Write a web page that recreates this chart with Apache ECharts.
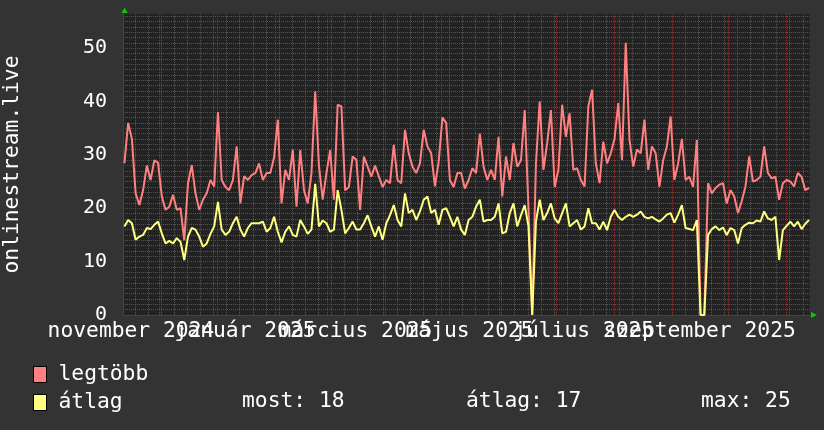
<!DOCTYPE html>
<html><head><meta charset="utf-8">
<script src="https://cdn.jsdelivr.net/npm/echarts@6/dist/echarts.min.js"></script>
<style>html,body{margin:0;padding:0;background:#333333;}#c{width:824px;height:430px;}</style>
</head><body><div id="c"></div>
<script>
const FONT = '"DejaVu Sans Mono", monospace';
const seriesNames = ['legtöbb', 'átlag'];
const seriesColors = ['#ff8080', '#ffff80'];
// one reading every 2 days, first reading 2024-11-12
const maxVals = [
28.4,36.0,33,22.8,20.6,23.4,28,25.3,29,28.5,22.2,19.7,20.3,22.5,19.7,20,14,24.7,28.1,22.8,
19.7,21.6,22.8,25.3,24.1,38,25.3,24,23.4,25.3,31.6,20.9,26,25.3,26.2,26.6,28.4,25.3,26.6,26.6,
29.5,36.6,20.9,27.2,25.3,31,20.3,30.9,23.4,20.9,26.6,41.9,28,21.6,26.6,30.9,21.6,39.4,39.1,23.4,
24,29.7,29.1,19.7,29.7,27.8,25.9,28,26,24,25.3,24.7,31.9,25.3,24.7,34.7,30.3,27.8,26.6,28.4,
34.7,31.6,30.3,24.1,28.7,37,36,25.3,24,26.6,26.6,23.7,25.3,27.5,26.6,34,27.8,25.3,27.2,25.3,
33.4,22.2,29.7,25.3,32.2,27.8,29,38.4,20,0,28.4,40,27.2,32.2,38.4,24,27.2,39.4,33.4,37.8,
27.2,27.5,25.3,24.1,39.1,42.2,28.4,24.7,32.5,28.4,30.3,33,39.7,29,51,32.8,27.8,31,30.3,36.6,
27.2,31.6,30.3,24,29,31.6,37.2,25.3,28.4,33,25.3,25.9,24,32.8,0,0,24.7,22.8,23.8,24.4,
24.7,20.9,23.4,22.2,19.1,21.3,24.1,29.7,25,25.3,25.9,31.6,26.6,25.6,25.9,21.6,24.7,25.3,25,24.1,
26.6,25.9,23.4,23.8
];
const avgVals = [
16.6,17.8,17.2,14.1,14.7,15,16.3,16.1,16.9,17.5,15.3,13.4,13.9,13.4,14.4,13.7,10.3,14.7,16.3,16,
14.7,12.8,13.4,15.2,16.6,21.2,16,15,15.6,17.2,18.4,16,14.7,16.3,17.2,17.2,17.2,17.5,15.6,16.3,
18.4,15.6,13.6,15.6,16.6,15,14.7,17.8,16.6,15.2,16,24.6,16.6,17.7,17.2,15.6,16,23.4,19.7,15.3,
16.3,17.5,16,16,17.2,18.7,16.6,14.7,16.6,14.1,17.2,18.7,20.6,17.8,16.6,22.8,19.1,19.7,17.8,19.4,
21.6,22.2,19.1,19.7,16.9,19.7,20,18.4,16.6,18.4,16,15,17.8,18.4,20.3,21.6,17.5,17.8,17.8,18.4,
20.9,15.3,15.6,19.1,20.9,16.6,18.7,20.6,16.6,0,17.5,21.6,17.8,19.1,20.9,18.1,17.2,19.1,20.9,16.6,
17.2,17.8,16,16.6,20,17.2,17.2,16,17.5,15.9,18.4,19.7,18.4,17.8,18.4,18.8,18.4,18.8,19.4,18.4,
18.1,18.4,17.9,17.5,18.1,18.8,19.1,17.3,18.8,20.6,16.3,16.1,15.9,17.8,0,0,15,16.1,16.6,15.9,
16.4,15,16.3,15.9,13.4,16.3,16.9,17.3,17.2,17.7,17.5,19.4,18.1,17.8,18.4,10.3,15.9,16.7,17.5,16.6,
17.5,16.1,17.1,17.8
];
const firstReading = '2024-11-12T12:00:00Z';
const readingStepDays = 2;
const axisStart = '2024-11-11T18:00:00Z';
const axisEnd = '2025-11-14T00:00:00Z';
const monthStarts = ['2024-12-01','2025-01-01','2025-02-01','2025-03-01','2025-04-01','2025-05-01','2025-06-01','2025-07-01','2025-08-01','2025-09-01','2025-10-01','2025-11-01'];
const firstMonday = '2024-11-18';
const labelDates = ['2024-11-16','2025-01-16','2025-03-16','2025-05-16','2025-07-16','2025-09-16'];
const labelTexts = ['november 2024','január 2025','március 2025','május 2025','július 2025','szeptember 2025'];
const yTicks = [0, 10, 20, 30, 40, 50];
const yMax = 56.4;
const yMinorStep = 1;
const statTexts = ['most: 18', 'átlag: 17', 'max: 25'];

const DAY = 86400000;
const t0 = Date.parse(firstReading);
const xMin = Date.parse(axisStart), xMax = Date.parse(axisEnd);
const times = maxVals.map((_, i) => t0 + i * readingStepDays * DAY);
const labelTs = labelDates.map(d => Date.parse(d));
const labelsA = labelTs.filter((_, i) => i % 2 === 0);
const labelsB = labelTs.filter((_, i) => i % 2 === 1);
const weekTs = [];
for (let t = Date.parse(firstMonday); t < xMax; t += 7 * DAY) weekTs.push(t);
const monthTs = monthStarts.map(d => Date.parse(d));

const G = {left: 123, right: 14, top: 14, bottom: 115};
const MINOR = '#555555', MAJOR = '#7e3838';
const labelFmt = v => { const k = labelTs.indexOf(v); return k >= 0 ? labelTexts[k] : ''; };

function xAxisWithLabels(vals, showLine, z) {
  return {
    type: 'value', min: xMin, max: xMax, scale: true, position: 'bottom', z: z,
    axisLine: {show: showLine, lineStyle: {color: '#444444'}},
    axisTick: {show: false},
    splitLine: {show: false},
    axisLabel: {
      customValues: vals, showMinLabel: true, showMaxLabel: true, hideOverlap: false,
      formatter: labelFmt, color: '#ffffff', fontSize: 21.3, fontFamily: FONT, margin: 6
    }
  };
}

function vGridSeries(tsArr, color, z) {
  return {
    type: 'custom', silent: true, z: z, xAxisIndex: 0, yAxisIndex: 0, clip: true,
    data: tsArr.map(t => [t, 0]),
    renderItem: (params, api) => {
      const p0 = api.coord([api.value(0), 0]);
      const p1 = api.coord([api.value(0), yMax]);
      const x = Math.round(p0[0]) + 0.5;
      return {type: 'line', silent: true,
        shape: {x1: x, y1: Math.round(p0[1]), x2: x, y2: Math.round(p1[1])},
        style: {stroke: color, lineWidth: 1, lineDash: [1, 1], fill: null}};
    }
  };
}

const chart = echarts.init(document.getElementById('c'), null, {renderer: 'canvas'});
chart.setOption({
  backgroundColor: '#333333',
  animation: false,
  textStyle: {fontFamily: FONT},
  grid: {left: G.left, right: G.right, top: G.top, bottom: G.bottom, containLabel: false, outerBoundsMode: 'none',
    show: true, backgroundColor: '#222222', borderWidth: 0},
  xAxis: [xAxisWithLabels(labelsA, true, 1), xAxisWithLabels(labelsB, false, 1)],
  yAxis: [
    {
      type: 'value', min: 0, max: yMax, interval: 10, z: 1,
      name: 'onlinestream.live', nameLocation: 'middle', nameGap: 100,
      nameTextStyle: {color: '#ffffff', fontSize: 21.3, fontFamily: FONT},
      axisLine: {show: true, lineStyle: {color: '#444444'}},
      axisTick: {show: false},
      axisLabel: {color: '#ffffff', fontSize: 20, fontFamily: FONT, margin: 16, showMaxLabel: false,
        formatter: v => yTicks.indexOf(v) >= 0 ? String(v) : ''},
      splitLine: {show: true, showMinLine: false, showMaxLine: false, lineStyle: {color: MAJOR, type: [1, 1], width: 1}}
    },
    {
      type: 'value', min: 0, max: yMax, interval: yMinorStep, z: 0,
      axisLine: {show: false}, axisTick: {show: false}, axisLabel: {show: false},
      splitLine: {show: true, showMinLine: false, showMaxLine: false, lineStyle: {color: MINOR, type: [1, 1], width: 1}}
    }
  ],
  legend: {
    data: seriesNames.map((n, i) => ({name: n, icon: 'rect', itemStyle: {color: seriesColors[i], borderColor: '#000000', borderWidth: 1}})),
    orient: 'vertical', left: 33, top: 364, padding: 0, itemWidth: 13, itemHeight: 16, itemGap: 7,
    selectedMode: false,
    textStyle: {color: '#ffffff', fontSize: 21.3, fontFamily: FONT, padding: [0, 0, 0, 7]}
  },
  graphic: [
    {type: 'polygon', shape: {points: [[121.5, 13], [127.5, 13], [124.5, 7.5]]}, style: {fill: '#00cc00'}, silent: true},
    {type: 'polygon', shape: {points: [[811, 312], [811, 318], [817, 315]]}, style: {fill: '#00cc00'}, silent: true},
    {type: 'text', x: 242, y: 401, style: {text: statTexts[0], fill: '#ffffff', font: '21.3px ' + FONT, verticalAlign: 'middle'}, silent: true},
    {type: 'text', x: 466, y: 401, style: {text: statTexts[1], fill: '#ffffff', font: '21.3px ' + FONT, verticalAlign: 'middle'}, silent: true},
    {type: 'text', x: 701, y: 401, style: {text: statTexts[2], fill: '#ffffff', font: '21.3px ' + FONT, verticalAlign: 'middle'}, silent: true}
  ],
  series: [
    vGridSeries(weekTs, MINOR, 1),
    vGridSeries(monthTs, MAJOR, 1),
    {
      type: 'line', name: seriesNames[0], z: 3, showSymbol: false, symbol: 'none',
      xAxisIndex: 0, yAxisIndex: 0,
      data: times.map((t, i) => [t, maxVals[i]]),
      lineStyle: {color: seriesColors[0], width: 2}, itemStyle: {color: seriesColors[0]}
    },
    {
      type: 'line', name: seriesNames[1], z: 4, showSymbol: false, symbol: 'none',
      xAxisIndex: 0, yAxisIndex: 0,
      data: times.map((t, i) => [t, avgVals[i]]),
      lineStyle: {color: seriesColors[1], width: 2}, itemStyle: {color: seriesColors[1]}
    }
  ]
});
</script></body></html>
